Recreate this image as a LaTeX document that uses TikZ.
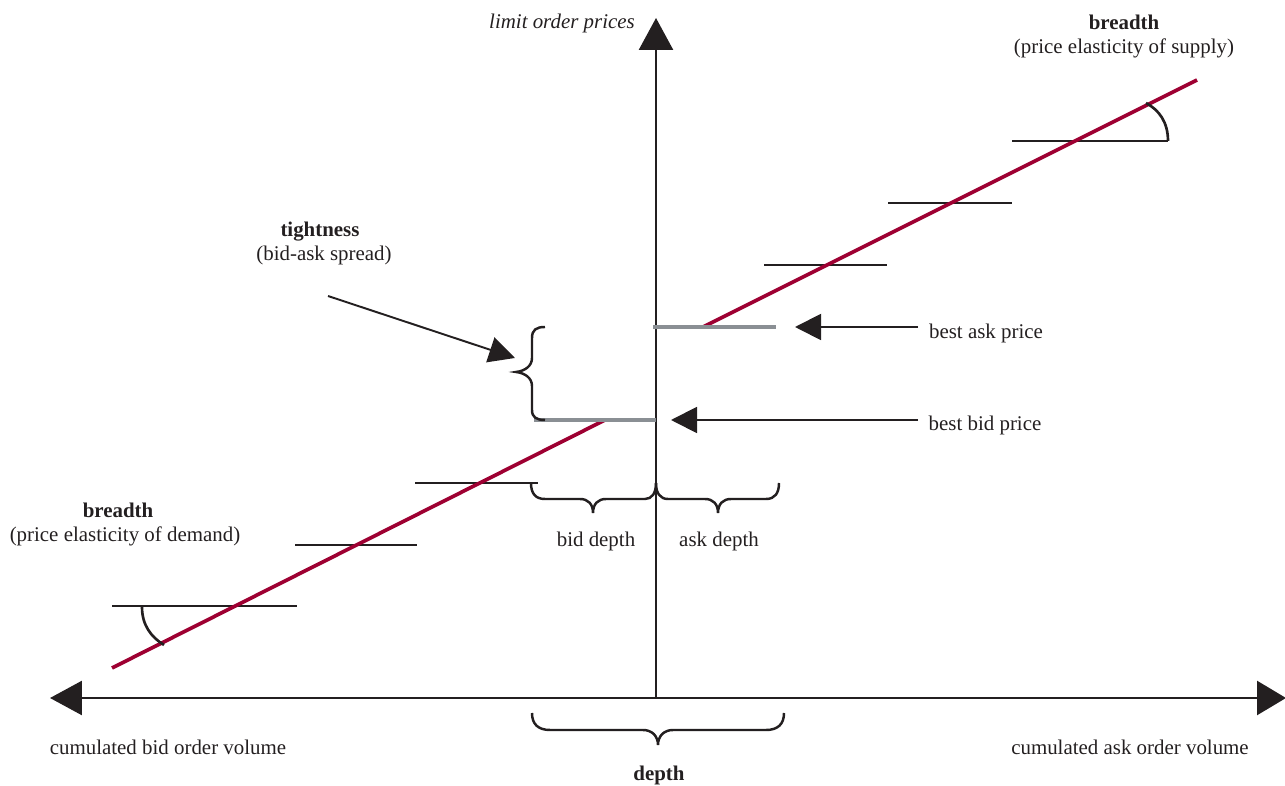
\documentclass[tikz,border=0pt]{standalone}
\usepackage{fontspec}
\setmainfont{Liberation Serif}
\usetikzlibrary{arrows.meta}
\definecolor{curvered}{RGB}{158,0,50}
\definecolor{bestgray}{RGB}{138,143,148}
\definecolor{ink}{RGB}{35,31,32}
\begin{document}
\begin{tikzpicture}[x=0.02cm,y=-0.02cm,
  lbl/.style={font=\fontsize{11.9}{14}\selectfont, text=ink, inner sep=0pt, anchor=base},
  axisline/.style={line width=1.5pt, draw=ink},
  ptr/.style={line width=1.1pt, draw=ink, fill=ink, -{Triangle[length=0.52cm,width=0.52cm]}},
  stepline/.style={line width=1.5pt, draw=ink},
  bestline/.style={line width=2.4pt, draw=bestgray},
  supply/.style={line width=2.1pt, draw=curvered},
  bracepath/.style={line width=1.4pt, draw=ink},
  anglearc/.style={line width=1.5pt, draw=ink}]
\useasboundingbox (0,0) rectangle (1285,786);

% axes
\coordinate (O) at (656,698);
\coordinate (ytip) at (656,18);
\coordinate (xl) at (50,698);
\coordinate (xr) at (1286,698);
\draw[axisline, fill=ink, -{Triangle[length=0.64cm,width=0.68cm]}] (O) -- (ytip);
\draw[axisline, fill=ink, {Triangle[length=0.64cm,width=0.68cm]}-{Triangle[length=0.58cm,width=0.68cm]}] (xl) -- (xr);

% steps
\draw[stepline] (112,606) -- (297,606);
\draw[stepline] (295,545) -- (417,545);
\draw[stepline] (415,483) -- (538,483);
\draw[stepline] (764,265) -- (887,265);
\draw[stepline] (888,203) -- (1012,203);
\draw[stepline] (1012,141) -- (1168,141);

% demand / supply lines
\draw[supply] (112,668) -- (605,420);
\draw[supply] (703,327) -- (1197,80);

% best prices
\draw[bestline] (534,420) -- (656,420);
\draw[bestline] (653,327) -- (776,327);

% angle arcs
\draw[anglearc] (1168,141) .. controls (1168,122) and (1159,110) .. (1146,103);
\draw[anglearc] (142,607) .. controls (142,625) and (151,637) .. (164,645);

% braces
\draw[bracepath] (545,327) .. controls (536,327) and (532,330) .. (532,338) -- (532,358)
  .. controls (532,366) and (525,371) .. (516,372)
  .. controls (525,373) and (532,378) .. (532,386) -- (532,410)
  .. controls (532,417) and (536,420) .. (545,420);
\draw[bracepath] (531,483) .. controls (531,493) and (535,499) .. (545,499) -- (580,499)
  .. controls (588,499) and (593,504) .. (593,513)
  .. controls (593,504) and (598,499) .. (606,499) -- (645,499)
  .. controls (652,499) and (656,493) .. (656,483);
\draw[bracepath] (656,483) .. controls (656,493) and (660,499) .. (668,499) -- (705,499)
  .. controls (713,499) and (718,504) .. (718,513)
  .. controls (718,504) and (723,499) .. (731,499) -- (766,499)
  .. controls (775,499) and (779,493) .. (779,483);
\draw[bracepath] (532,713) .. controls (532,724) and (538,730) .. (550,730) -- (643,730)
  .. controls (652,730) and (658,736) .. (658,745)
  .. controls (658,736) and (664,730) .. (673,730) -- (766,730)
  .. controls (778,730) and (784,724) .. (784,713);

% labels
\node[lbl] (ylab) at (562,29) {\itshape limit order prices};
\node[lbl] (br1) at (1124,30) {\bfseries breadth};
\node[lbl] (br1b) at (1124,54) {(price elasticity of supply)};
\node[lbl] (tight) at (320,237) {\bfseries tightness};
\node[lbl] (tightb) at (324,261) {(bid-ask spread)};
\node[lbl] (br2) at (118,518) {\bfseries breadth};
\node[lbl] (br2b) at (125,542) {(price elasticity of demand)};
\node[lbl] (bask) at (986,339) {best ask price};
\node[lbl] (bbid) at (985,431) {best bid price};
\node[lbl] (bdep) at (596,547) {bid depth};
\node[lbl] (adep) at (719,547) {ask depth};
\node[lbl] (cbid) at (168,755) {cumulated bid order volume};
\node[lbl] (cask) at (1130,755) {cumulated ask order volume};
\node[lbl] (dep) at (659,781) {\bfseries depth};

% pointers
\coordinate (tstart) at (328,296);
\coordinate (ttip) at (515,358);
\coordinate (astart) at (918,327);
\coordinate (atip) at (795,327);
\coordinate (bstart) at (918,420);
\coordinate (btip) at (671,420);
\draw[ptr] (tstart) -- (ttip);
\draw[ptr] (astart) -- (atip);
\draw[ptr] (bstart) -- (btip);
\end{tikzpicture}
\end{document}
